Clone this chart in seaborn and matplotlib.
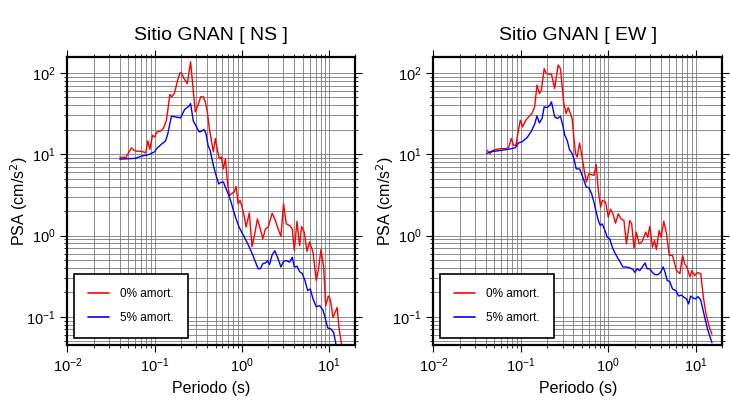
import matplotlib
matplotlib.use("Agg")
import matplotlib.pyplot as plt
import pandas as pd
import seaborn as sns

# ---- NS component ----
ns_t0 = [0.040, 0.0418, 0.0436, 0.0465, 0.0498, 0.0544, 0.0578, 0.0621, 0.0678, 0.0741,
         0.0795, 0.0838, 0.0883, 0.0948, 0.100, 0.107, 0.117, 0.126, 0.137, 0.150,
         0.158, 0.170, 0.182, 0.195, 0.203, 0.217, 0.237, 0.259, 0.273, 0.293,
         0.315, 0.338, 0.362, 0.382, 0.403, 0.425, 0.448, 0.472, 0.498, 0.525,
         0.553, 0.583, 0.615, 0.649, 0.684, 0.721, 0.761, 0.817, 0.861, 0.908,
         0.957, 1.01, 1.06, 1.12, 1.22, 1.31, 1.41, 1.51, 1.63, 1.74,
         1.87, 2.01, 2.23, 2.39, 2.57, 2.81, 3.01, 3.24, 3.53, 3.79,
         4.0, 4.29, 4.6, 4.85, 5.2, 5.58, 6.0, 6.55, 7.14, 7.53,
         8.09, 8.68, 9.16, 9.82, 10.4, 11.1, 12.4, 13.0, 14.0]
ns_psa0 = [9.25, 9.0, 9.25, 9.0, 10.2, 12.0, 11.2, 10.9, 10.9, 10.7,
           10.4, 14.6, 11.5, 17.1, 16.3, 18.8, 19.2, 20.7, 26.2, 54.3,
           50.8, 57.0, 77.8, 100.0, 100.0, 85.7, 74.0, 137.0, 74.0, 33.2,
           40.0, 50.8, 50.8, 44.0, 33.0, 20.7, 14.8, 10.7, 15.6, 11.2,
           8.8, 9.25, 6.6, 8.8, 4.55, 3.1, 3.27, 3.42, 4.0, 2.46,
           2.7, 2.23, 1.77, 1.27, 1.9, 0.73, 1.05, 1.6, 1.21, 0.91,
           1.21, 1.27, 1.88, 1.6, 1.27, 0.97, 2.46, 1.39, 1.33, 1.21,
           0.65, 1.5, 0.75, 1.29, 1.1, 0.64, 0.83, 0.62, 0.28, 0.37,
           0.67, 0.41, 0.137, 0.18, 0.161, 0.098, 0.13, 0.074, 0.044]

ns_t5 = [0.040, 0.0485, 0.0605, 0.069, 0.086, 0.0908, 0.100, 0.108, 0.122, 0.134,
         0.142, 0.156, 0.174, 0.199, 0.221, 0.248, 0.259, 0.278, 0.296, 0.324,
         0.344, 0.369, 0.389, 0.410, 0.433, 0.472, 0.507, 0.544, 0.574, 0.615,
         0.661, 0.697, 0.748, 0.802, 0.861, 0.925, 1.01, 1.12, 1.22, 1.34,
         1.46, 1.54, 1.63, 1.74, 1.87, 1.97, 2.08, 2.23, 2.39, 2.57,
         2.81, 3.01, 3.24, 3.53, 3.79, 4.0, 4.29, 4.6, 4.93, 5.3,
         5.69, 6.1, 6.55, 7.14, 7.81, 8.53, 9.0, 9.66, 10.5, 11.3, 12.1]
ns_psa5 = [8.7, 8.8, 8.9, 9.4, 9.9, 10.2, 10.7, 12.0, 13.5, 14.6,
           17.9, 29.3, 28.8, 28.0, 35.5, 39.0, 42.0, 25.7, 22.7, 18.8,
           19.2, 20.1, 17.9, 12.9, 11.2, 7.3, 5.5, 4.3, 4.5, 4.55,
           3.76, 3.27, 2.65, 2.03, 1.6, 1.29, 1.07, 0.87, 0.72, 0.57,
           0.45, 0.39, 0.39, 0.45, 0.46, 0.49, 0.44, 0.58, 0.65, 0.54,
           0.41, 0.48, 0.49, 0.47, 0.54, 0.41, 0.42, 0.36, 0.34, 0.28,
           0.21, 0.22, 0.166, 0.133, 0.137, 0.121, 0.098, 0.073, 0.071, 0.064, 0.044]

# ---- EW component ----
ew_t0 = [0.0409, 0.0428, 0.0447, 0.0467, 0.0510, 0.0582, 0.0664, 0.0725, 0.0778, 0.0828,
         0.0881, 0.0928, 0.0987, 0.105, 0.1127, 0.123, 0.134, 0.144, 0.153, 0.163,
         0.172, 0.185, 0.195, 0.209, 0.224, 0.244, 0.267, 0.284, 0.310, 0.330,
         0.348, 0.386, 0.407, 0.422, 0.441, 0.469, 0.494, 0.531, 0.560, 0.600,
         0.644, 0.685, 0.728, 0.768, 0.817, 0.854, 0.932, 1.0, 1.06, 1.13,
         1.21, 1.30, 1.40, 1.51, 1.61, 1.76, 1.85, 1.97, 2.09, 2.25,
         2.45, 2.68, 2.83, 2.98, 3.20, 3.37, 3.55, 3.81, 4.02, 4.31,
         4.63, 4.97, 5.42, 6.03, 6.58, 7.06, 7.45, 7.99, 8.57, 9.03,
         9.70, 10.4, 11.4, 12.2, 13.1, 14.3, 15.3]
ew_psa0 = [11.2, 10.7, 10.2, 11.0, 11.4, 11.7, 11.7, 12.0, 15.6, 12.9,
           12.9, 18.3, 26.2, 21.7, 25.7, 28.8, 31.7, 38.2, 70.7, 55.8,
           61.4, 113.0, 98.5, 96.7, 96.7, 64.3, 125.0, 113.0, 42.0, 31.6,
           37.5, 27.5, 14.8, 10.2, 9.2, 13.8, 10.2, 6.3, 4.55, 5.76,
           5.6, 5.5, 7.5, 3.59, 2.24, 2.7, 2.58, 1.68, 2.11, 1.85,
           1.42, 1.85, 1.6, 1.53, 0.79, 1.53, 1.39, 0.70, 1.1, 0.79,
           0.85, 1.1, 0.95, 1.29, 0.72, 0.87, 0.67, 1.15, 0.95, 1.5,
           1.05, 0.57, 0.57, 0.37, 0.34, 0.57, 0.45, 0.40, 0.31, 0.37,
           0.32, 0.35, 0.34, 0.174, 0.108, 0.074, 0.061]

ew_t5 = [0.0409, 0.0447, 0.0510, 0.0608, 0.0725, 0.0865, 0.0944, 0.103, 0.118, 0.132,
         0.144, 0.153, 0.163, 0.175, 0.185, 0.200, 0.215, 0.224, 0.244, 0.262,
         0.284, 0.302, 0.318, 0.339, 0.360, 0.386, 0.407, 0.430, 0.469, 0.494,
         0.526, 0.560, 0.600, 0.644, 0.685, 0.728, 0.768, 0.810, 0.854, 0.916,
         0.974, 1.04, 1.11, 1.19, 1.28, 1.37, 1.47, 1.61, 1.76, 1.92,
         2.02, 2.13, 2.29, 2.45, 2.63, 2.78, 2.98, 3.20, 3.43, 3.68,
         3.95, 4.24, 4.47, 4.71, 5.06, 5.42, 5.92, 6.35, 6.82, 7.31,
         7.85, 8.28, 8.73, 9.36, 9.87, 10.6, 11.4, 12.4, 13.6, 15.3]
ew_psa5 = [10.2, 10.7, 10.9, 11.2, 11.5, 12.0, 13.8, 14.2, 16.0, 19.2,
           23.4, 29.6, 24.3, 27.5, 38.2, 37.5, 40.0, 44.0, 28.8, 27.5,
           29.3, 22.7, 17.1, 14.8, 11.4, 10.2, 8.6, 6.6, 6.6, 5.76,
           4.77, 3.95, 3.87, 3.27, 2.58, 1.94, 1.53, 1.33, 1.39, 1.15,
           0.95, 0.91, 0.72, 0.61, 0.53, 0.47, 0.41, 0.41, 0.40, 0.38,
           0.35, 0.39, 0.37, 0.41, 0.46, 0.39, 0.39, 0.35, 0.33, 0.33,
           0.35, 0.41, 0.35, 0.28, 0.27, 0.22, 0.21, 0.18, 0.185, 0.174,
           0.166, 0.144, 0.18, 0.17, 0.166, 0.177, 0.161, 0.108, 0.071, 0.048]

labels = ["0% amort.", "5% amort."]
titles = ["Sitio GNAN [ NS ]", "Sitio GNAN [ EW ]"]


def make_df(t0, p0, t5, p5):
    return pd.concat([
        pd.DataFrame({"Periodo": t0, "PSA": p0, "amort": labels[0]}),
        pd.DataFrame({"Periodo": t5, "PSA": p5, "amort": labels[1]}),
    ], ignore_index=True)


sns.set_style("white")
plt.rcParams["font.family"] = ["Liberation Sans", "DejaVu Sans"]
plt.rcParams.update({"text.color": "black", "axes.labelcolor": "black",
                     "xtick.color": "black", "ytick.color": "black"})

fig = plt.figure(figsize=(7.3, 4.0), dpi=100)
axes = [fig.add_axes([0.0922, 0.1375, 0.3945, 0.72]),
        fig.add_axes([0.5936, 0.1375, 0.3956, 0.72])]

frames = [make_df(ns_t0, ns_psa0, ns_t5, ns_psa5),
          make_df(ew_t0, ew_psa0, ew_t5, ew_psa5)]

for ax, df, title in zip(axes, frames, titles):
    sns.lineplot(data=df, x="Periodo", y="PSA", hue="amort",
                 palette={labels[0]: "red", labels[1]: "blue"},
                 sort=False, estimator=None, lw=1.0, ax=ax)
    ax.set_xscale("log")
    ax.set_yscale("log")
    ax.set_xlim(0.01, 20)
    ax.set_ylim(0.045, 157)
    ax.grid(which="both", color="#7a7a7a", lw=0.6)
    ax.set_axisbelow(True)
    for sp in ax.spines.values():
        sp.set_visible(True)
        sp.set_color("black")
        sp.set_linewidth(1.6)
    ax.tick_params(which="both", direction="out", top=True, right=True,
                   bottom=True, left=True, labelsize=10.5, color="black")
    ax.tick_params(which="major", length=5, width=0.8)
    ax.tick_params(which="minor", length=2.5, width=0.6)
    ax.set_title(title, fontsize=14, pad=12)
    ax.set_xlabel("Periodo (s)", fontsize=11.5)
    ax.set_ylabel("PSA (cm/s$^2$)", fontsize=11.5, labelpad=-3)
    leg = ax.legend(loc="lower left", bbox_to_anchor=(0.023, 0.024),
                    borderaxespad=0, frameon=True, fancybox=False,
                    edgecolor="black", framealpha=1, fontsize=8.5,
                    borderpad=1.2, labelspacing=1.0, handlelength=1.8,
                    handletextpad=0.9)
    leg.get_frame().set_linewidth(1.2)
    for line in leg.get_lines():
        line.set_linewidth(1.2)

fig.savefig("out.png", dpi=100)
